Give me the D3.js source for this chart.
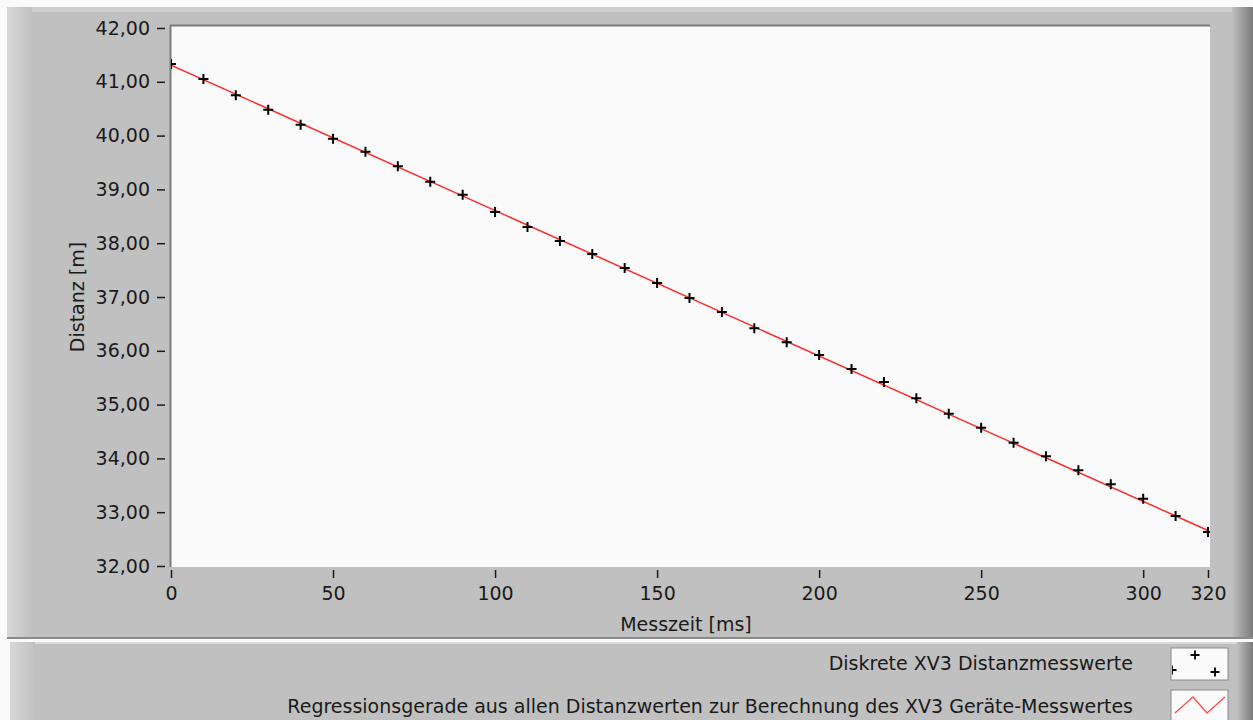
<!DOCTYPE html>
<html>
<head>
<meta charset="utf-8">
<script src="https://cdn.jsdelivr.net/npm/d3@7"></script>
<style>
  body { margin: 0; background: #fafafa; }
  text { font-family: "DejaVu Sans", sans-serif; fill: #1a1a1a; }
</style>
</head>
<body>
<div id="chart-area"></div>
<script>
// data
var times = [0,10,20,30,40,50,60,70,80,90,100,110,120,130,140,150,160,170,180,190,200,210,220,230,240,250,260,270,280,290,300,310,320];
var distances = [41.33,41.05,40.75,40.48,40.20,39.94,39.70,39.43,39.14,38.90,38.58,38.30,38.04,37.80,37.54,37.26,36.98,36.72,36.42,36.16,35.92,35.66,35.42,35.12,34.83,34.57,34.29,34.04,33.78,33.52,33.25,32.93,32.63];
var regressionX = [0, 320];
var regressionY = [41.31, 32.66];
var xTicks = [0,50,100,150,200,250,300,320];
var yTicks = [32,33,34,35,36,37,38,39,40,41,42];
var legendLabels = ["Diskrete XV3 Distanzmesswerte",
  "Regressionsgerade aus allen Distanzwerten zur Berechnung des XV3 Geräte-Messwertes"];

var W = 1253, H = 720;
var plot = {left: 171, top: 26, right: 1210, bottom: 567};
var fs = 19;

var svg = d3.select("#chart-area").append("svg")
  .attr("width", W).attr("height", H);

var defs = svg.append("defs");
var gl = defs.append("linearGradient").attr("id","leftEdge");
gl.append("stop").attr("offset","0").attr("stop-color","#d8d8d8");
gl.append("stop").attr("offset","1").attr("stop-color","#c0c0c0");
var gr = defs.append("linearGradient").attr("id","rightEdge");
gr.append("stop").attr("offset","0").attr("stop-color","#c0c0c0");
gr.append("stop").attr("offset","1").attr("stop-color","#7a7a7a");
defs.append("clipPath").attr("id","plotClip").append("rect")
  .attr("x", plot.left).attr("y", plot.top)
  .attr("width", plot.right - plot.left).attr("height", plot.bottom - plot.top);
defs.append("clipPath").attr("id","legClip").append("rect")
  .attr("x", 1172).attr("y", 649).attr("width", 56).attr("height", 31);

// main panel
svg.append("rect").attr("x",7).attr("y",7).attr("width",W-7).attr("height",632).attr("fill","#c0c0c0");
svg.append("rect").attr("x",7).attr("y",7).attr("width",W-7).attr("height",5).attr("fill","#cfcfcf");
svg.append("rect").attr("x",7).attr("y",7).attr("width",25).attr("height",632).attr("fill","url(#leftEdge)");
svg.append("rect").attr("x",1232).attr("y",7).attr("width",21).attr("height",632).attr("fill","url(#rightEdge)");
svg.append("rect").attr("x",7).attr("y",637).attr("width",W-7).attr("height",2).attr("fill","#8a8a8a");

// legend panel
svg.append("rect").attr("x",10).attr("y",642).attr("width",W-10).attr("height",78).attr("fill","#c0c0c0");
svg.append("rect").attr("x",10).attr("y",642).attr("width",W-10).attr("height",2).attr("fill","#dadada");
svg.append("rect").attr("x",10).attr("y",642).attr("width",25).attr("height",78).attr("fill","url(#leftEdge)");
svg.append("rect").attr("x",1237).attr("y",642).attr("width",16).attr("height",78).attr("fill","url(#rightEdge)");

// plot area
svg.append("rect").attr("x",plot.left).attr("y",plot.top)
  .attr("width",plot.right-plot.left).attr("height",plot.bottom-plot.top).attr("fill","#fafafa");
svg.append("line").attr("x1",plot.left-1).attr("x2",plot.right).attr("y1",plot.top-0.5).attr("y2",plot.top-0.5)
  .attr("stroke","#7a7a7a").attr("stroke-width",2);
svg.append("line").attr("x1",plot.left-0.5).attr("x2",plot.left-0.5).attr("y1",plot.top-1).attr("y2",plot.bottom)
  .attr("stroke","#7a7a7a").attr("stroke-width",2);

var xscale = d3.scaleLinear().domain([0,320]).range([171,1208]);
var yscale = d3.scaleLinear().domain([32,42]).range([566,28]);

// y axis
var yAxis = d3.axisLeft(yscale).tickValues(yTicks).tickSize(8).tickPadding(7)
  .tickFormat(function(d){ return d3.format(".2f")(d).replace(".",","); });
var gy = svg.append("g").attr("transform","translate(165,0)").call(yAxis);
gy.select(".domain").remove();
gy.selectAll("line").attr("stroke","#1a1a1a").attr("stroke-width",1.5);
gy.selectAll("text").attr("font-size",fs).attr("fill","#1a1a1a").attr("font-family","DejaVu Sans");

// x axis
var xAxis = d3.axisBottom(xscale).tickValues(xTicks).tickSize(8).tickPadding(9);
var gx = svg.append("g").attr("transform","translate(0,570)").call(xAxis);
gx.select(".domain").remove();
gx.selectAll("line").attr("stroke","#1a1a1a").attr("stroke-width",1.5);
gx.selectAll("text").attr("font-size",fs).attr("fill","#1a1a1a").attr("font-family","DejaVu Sans");

// axis titles
svg.append("text").attr("transform","translate(84,297) rotate(-90)")
  .attr("text-anchor","middle").attr("font-size",fs).text("Distanz [m]");
svg.append("text").attr("x",686).attr("y",631)
  .attr("text-anchor","middle").attr("font-size",fs).text("Messzeit [ms]");

// data
var gp = svg.append("g").attr("clip-path","url(#plotClip)");
var line = d3.line().x(function(d){ return xscale(d[0]); }).y(function(d){ return yscale(d[1]); });
gp.append("path").datum(d3.zip(regressionX, regressionY))
  .attr("d", line).attr("fill","none").attr("stroke","#ff2a2a").attr("stroke-width",1.5);

var pts = d3.zip(times, distances);
gp.selectAll("path.pt").data(pts).enter().append("path")
  .attr("class","pt")
  .attr("d", function(d){
    var x = xscale(d[0]), y = yscale(d[1]);
    return "M"+(x-5)+","+y+"H"+(x+5)+"M"+x+","+(y-5)+"V"+(y+5);
  })
  .attr("stroke","#000").attr("stroke-width",2).attr("fill","none");

// legend
var legendY = [663, 706];
svg.selectAll("text.leg").data(legendLabels).enter().append("text")
  .attr("class","leg").attr("x",1133).attr("y",function(d,i){ return legendY[i]+7; })
  .attr("text-anchor","end").attr("font-size",fs).text(function(d){ return d; });

svg.append("rect").attr("x",1171).attr("y",648).attr("width",57).attr("height",32).attr("fill","#fafafa")
  .attr("stroke","#8a8a8a").attr("stroke-width",1);
svg.append("rect").attr("x",1171).attr("y",690).attr("width",57).attr("height",32).attr("fill","#fafafa")
  .attr("stroke","#8a8a8a").attr("stroke-width",1);

var legPts = [[1172,670],[1195,655],[1215,672]];
svg.append("g").attr("clip-path","url(#legClip)")
  .selectAll("path.lpt").data(legPts).enter().append("path").attr("class","lpt")
  .attr("d", function(d){ return "M"+(d[0]-4.5)+","+d[1]+"H"+(d[0]+4.5)+"M"+d[0]+","+(d[1]-4.5)+"V"+(d[1]+4.5); })
  .attr("stroke","#000").attr("stroke-width",1.8);
svg.append("path").attr("d","M1175,713L1193,697L1207,713L1225,697")
  .attr("fill","none").attr("stroke","#ff5050").attr("stroke-width",1.3);
</script>
</body>
</html>
